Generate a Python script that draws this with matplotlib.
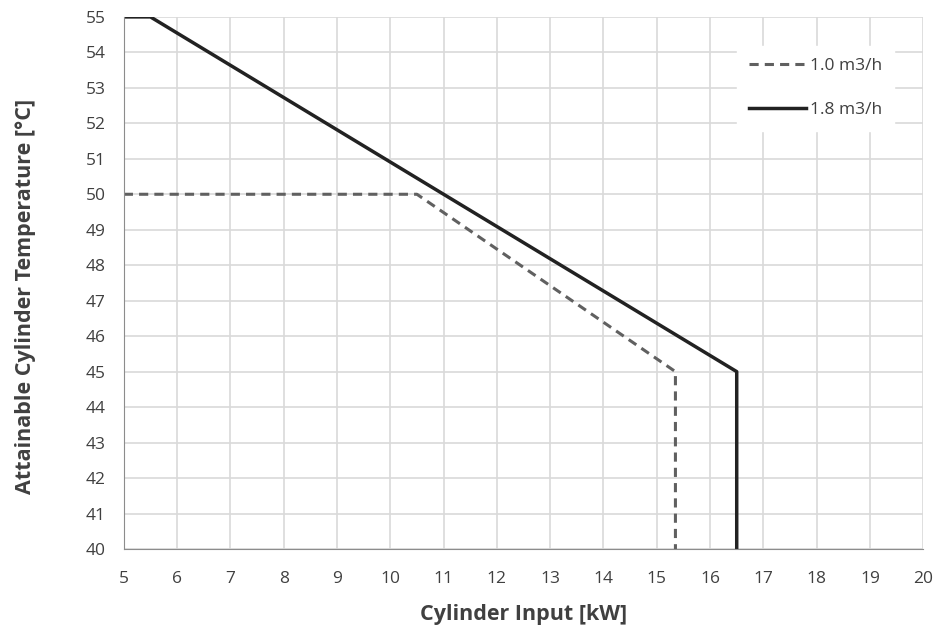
import matplotlib.pyplot as plt

# flow 1.0 m3/h (dashed)
x_10 = [5, 10.5, 15.35, 15.35]
y_10 = [50, 50, 45, 40]
# flow 1.8 m3/h (solid)
x_18 = [5, 5.5, 16.5, 16.5]
y_18 = [55, 55, 45, 40]

x_ticks = list(range(5, 21))
y_ticks = list(range(40, 56))


def main():
    plt.rcParams["font.family"] = ["Open Sans", "DejaVu Sans"]
    fig = plt.figure(figsize=(9.45, 6.26), dpi=100)
    ax = fig.add_axes([0.131, 0.123, 0.846, 0.85])

    ax.plot(x_10, y_10, color="#606060", lw=2.2, ls=(0, (3, 2)), label="1.0 m3/h")
    ax.plot(x_18, y_18, color="#222222", lw=2.5, label="1.8 m3/h")

    ax.set_xlim(5, 20)
    ax.set_ylim(40, 55)
    ax.set_xticks(x_ticks)
    ax.set_yticks(y_ticks)
    ax.grid(True, color="#d9d9d9", lw=1.2)
    ax.set_axisbelow(True)
    for s in ["top", "right"]:
        ax.spines[s].set_visible(False)
    for s in ["left", "bottom"]:
        ax.spines[s].set_color("#8c8c8c")
    ax.tick_params(length=0, labelsize=12.5, colors="#404040")
    ax.tick_params(axis="y", pad=13)
    ax.tick_params(axis="x", pad=16)

    ax.set_xlabel("Cylinder Input [kW]", fontsize=15.5, fontweight="bold", color="#404040",
                  labelpad=12)
    ax.set_ylabel("Attainable Cylinder Temperature [°C]", fontsize=15.5, fontweight="bold",
                  color="#404040")
    ax.yaxis.set_label_coords(-0.11, 0.475)

    leg = ax.legend(loc="upper left", bbox_to_anchor=(0.767, 0.945), frameon=True,
                    fontsize=12.5, handlelength=3.3, handletextpad=0.2, labelspacing=1.6,
                    borderpad=0.7, borderaxespad=0)
    leg.get_frame().set_edgecolor("white")
    leg.get_frame().set_facecolor("white")
    leg.get_frame().set_alpha(1)
    leg.get_frame().set_boxstyle("square", pad=0)
    for t in leg.get_texts():
        t.set_color("#404040")

    fig.savefig("out.png", dpi=100, facecolor="white")


if __name__ == "__main__":
    main()
